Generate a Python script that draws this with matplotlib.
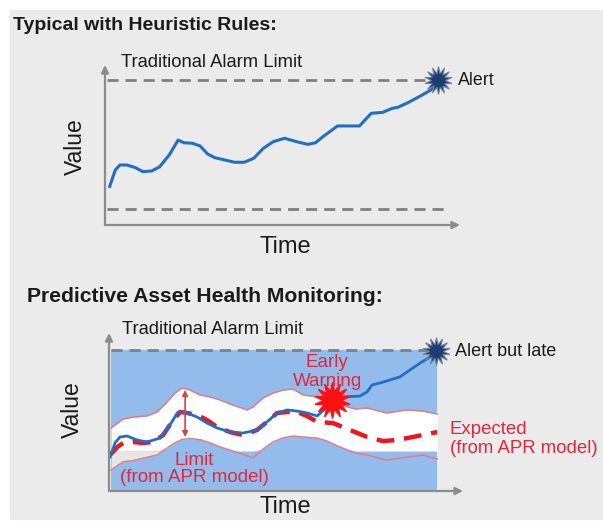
import matplotlib

matplotlib.use("Agg")

import numpy as np
import matplotlib.pyplot as plt
from matplotlib.patches import Rectangle

plt.rcParams["font.family"] = ["Liberation Sans", "DejaVu Sans"]

# ---- top panel: heuristic rules (time 0..100, value 0..100) ----
top_t = [1.3, 2.9, 4.2, 6.2, 8.6, 10.7, 13.2, 15.4, 18.1, 20.6, 22.2, 24.6, 26.8,
         28.9, 30.9, 33.8, 36.5, 39.2, 41.9, 44.6, 47.4, 50.6, 53.9, 57.1, 59.3,
         61.4, 63.6, 65.5, 71.7, 72.8, 75.0, 78.2, 80.9, 82.5, 85.3, 88.5, 91.8,
         93.4, 93.8]
top_v = [23.9, 34.4, 37.5, 37.5, 35.8, 33.3, 33.8, 36.4, 43.8, 53.1, 51.4, 51.1,
         49.4, 44.4, 42.1, 40.6, 39.2, 39.2, 41.7, 47.9, 52.1, 54.2, 52.1, 50.4,
         51.4, 55.2, 58.8, 61.9, 61.9, 64.6, 69.8, 70.4, 72.9, 73.6, 76.4, 80.2,
         84.4, 87.5, 90.6]
top_high_limit = 90.6
top_low_limit = 10.0

# ---- bottom panel: predictive monitoring ----
band_t = [0.6, 4.0, 6.8, 10.7, 13.6, 16.4, 18.6, 20.6, 22.9, 25.7, 28.5, 31.4, 35.0,
          39.0, 40.7, 43.5, 46.3, 49.2, 52.0, 54.8, 58.8, 61.6, 65.3, 69.5, 72.9,
          78.5, 84.2, 88.7, 92.7]
band_upper = [39.9, 45.6, 46.8, 47.5, 50.0, 56.3, 62.0, 65.2, 63.9, 60.8, 59.5, 57.6,
              54.4, 51.3, 53.2, 58.9, 62.0, 63.9, 64.6, 60.8, 59.5, 56.3, 54.4, 51.9,
              52.5, 49.4, 51.3, 50.6, 48.7]
band_lower = [13.3, 18.5, 19.2, 21.3, 22.8, 27.2, 30.5, 32.6, 33.2, 32.5, 30.5, 27.9,
              25.3, 22.3, 20.9, 26.5, 31.0, 33.6, 34.8, 34.2, 33.5, 31.6, 27.8, 24.0,
              22.8, 19.6, 21.5, 22.7, 20.3]

exp_t = [0.3, 2.3, 4.0, 6.8, 9.6, 12.4, 15.3, 18.1, 20.1, 22.0, 24.9, 27.7, 30.5,
         34.2, 37.9, 41.8, 44.6, 47.5, 50.3, 53.1, 55.9, 58.8, 63.3, 68.1, 72.9,
         77.4, 81.4, 85.9, 92.7]
exp_v = [22.8, 27.8, 30.4, 31.0, 30.4, 31.0, 35.4, 44.9, 50.0, 49.4, 48.1, 44.9,
         40.5, 37.3, 35.4, 38.6, 43.7, 49.4, 50.0, 50.0, 47.5, 43.7, 43.0, 38.6,
         34.2, 31.6, 32.3, 34.2, 37.3]

act_t = [0.3, 1.7, 3.1, 5.1, 7.9, 10.7, 14.4, 17.2, 19.5, 22.0, 24.9, 27.7, 30.5,
         34.2, 37.9, 41.8, 44.6, 47.5, 50.3, 53.1, 55.9, 58.8, 61.0, 63.0, 66.1,
         70.9, 72.9, 74.3, 76.6, 79.4, 82.2, 85.0, 87.9, 90.7, 92.4]
act_v = [21.5, 30.4, 34.2, 34.8, 32.3, 31.0, 33.5, 41.8, 50.0, 49.4, 46.8, 43.0,
         39.9, 37.3, 36.7, 38.6, 43.7, 49.4, 51.3, 50.6, 49.4, 47.5, 51.9, 57.6,
         59.5, 60.1, 62.7, 67.1, 68.4, 70.3, 72.2, 76.6, 81.0, 84.8, 88.0]

bot_alarm_limit = 89.2
region_t = [0.6, 92.7]
gray_floor = 25.3
warning_t, warning_v = 63.0, 57.6
alert_t, alert_v = 92.4, 88.6
limit_arrow_t = 21.5
limit_arrow_v = [63.9, 34.2]

AXIS_GRAY = "#8c8c8c"
DASH_GRAY = "#808080"
BLUE = "#1f6fc5"
RED = "#f0141e"
TEXT_RED = "#e0283a"
TEXT = "#1a1a1a"

fig = plt.figure(figsize=(6.03, 5.24), dpi=100, facecolor="white")
fig.patches.append(Rectangle((10 / 603, 5 / 524), 593 / 603, 509 / 524,
                             transform=fig.transFigure, color="#ebebeb", zorder=-10))

fig.text(13 / 603, 1 - 25 / 524, "Typical with Heuristic Rules:", fontsize=14,
         fontweight="bold", color=TEXT, va="center", ha="left")
fig.text(27 / 603, 1 - 297 / 524, "Predictive Asset Health Monitoring:", fontsize=15.2,
         fontweight="bold", color=TEXT, va="center", ha="left")


def draw_axes(ax):
    ax.set_xlim(0, 100)
    ax.set_ylim(0, 100)
    ax.axis("off")
    arrow = dict(arrowstyle="-|>", color=AXIS_GRAY, lw=1.6, mutation_scale=11,
                 shrinkA=0, shrinkB=0)
    ax.annotate("", xy=(100, 0), xytext=(0, 0), arrowprops=arrow, zorder=6)
    ax.annotate("", xy=(0, 100), xytext=(0, 0), arrowprops=arrow, zorder=6)


# top panel
ax1 = fig.add_axes([105 / 603, 1 - 225 / 524, 355 / 603, 160 / 524])
draw_axes(ax1)
ax1.plot([0.6, 93.8], [top_high_limit] * 2, color=DASH_GRAY, lw=2, dashes=(4, 2.5))
ax1.plot([0.6, 97.2], [top_low_limit] * 2, color=DASH_GRAY, lw=2, dashes=(4, 2.5))
ax1.plot(top_t, top_v, color=BLUE, lw=2.2, solid_capstyle="round")
ax1.plot([top_t[-1]], [top_high_limit], marker=(14, 1, 0), ms=20, color="#1d3c70",
         mec="#6f80a0", mew=0.8, zorder=7)
ax1.text(4.5, 101.3, "Traditional Alarm Limit", fontsize=13.2, color=TEXT, va="center")
ax1.text(99.4, top_high_limit, "Alert", fontsize=12.8, color=TEXT, va="center")
ax1.text(-8.2, 48.8, "Value", fontsize=16.5, color=TEXT, rotation=90,
         ha="center", va="center")
ax1.text(50.7, -13.8, "Time", fontsize=17, color=TEXT, ha="center", va="center")

# bottom panel
ax2 = fig.add_axes([109 / 603, 1 - 491 / 524, 354 / 603, 158 / 524])
draw_axes(ax2)
bt = np.array(band_t)
lo = np.array(band_lower)
up = np.array(band_upper)
ax2.fill_between(region_t, 0, bot_alarm_limit, color="#93bcec", lw=0, zorder=1)
ax2.fill_between(bt, np.maximum(lo, gray_floor), up, color="white", lw=0, zorder=2)
ax2.fill_between(bt, lo, gray_floor, where=(bt < 20) & (lo < gray_floor),
                 interpolate=True, color="#e6e6e6", lw=0, zorder=2)
ax2.plot(bt, up, color="#e07c88", lw=1.1, zorder=3)
ax2.plot(bt, lo, color="#e07c88", lw=1.1, zorder=3)
ax2.plot(region_t, [bot_alarm_limit] * 2, color=DASH_GRAY, lw=2, dashes=(4, 2.5), zorder=3)
ax2.plot(exp_t, exp_v, color=RED, lw=3.2, dashes=(4, 2.2), zorder=4)
ax2.plot(act_t, act_v, color=BLUE, lw=2, zorder=5)
ax2.annotate("", xy=(limit_arrow_t, limit_arrow_v[0]), xytext=(limit_arrow_t, limit_arrow_v[1]),
             arrowprops=dict(arrowstyle="<|-|>", color="#d8404a", lw=1.2,
                             mutation_scale=8, shrinkA=0, shrinkB=0), zorder=6)
ax2.plot([warning_t], [warning_v], marker=(14, 1, 0), ms=26, color="#ff1010",
         mec="#ff1010", zorder=7)
ax2.plot([alert_t], [alert_v], marker=(14, 1, 0), ms=20, color="#1d3c70",
         mec="#6f80a0", mew=0.8, zorder=7)
ax2.text(3.7, 101.9, "Traditional Alarm Limit", fontsize=13.2, color=TEXT, va="center")
ax2.text(97.7, 88.0, "Alert but late", fontsize=13, color=TEXT, va="center")
ax2.text(61.6, 75.3, "Early\nWarning", fontsize=13.5, color=TEXT_RED, ha="center",
         va="center", linespacing=1.1, zorder=8)
ax2.text(96.3, 32.9, "Expected\n(from APR model)", fontsize=13.4, color=TEXT_RED,
         ha="left", va="center", linespacing=1.2)
ax2.text(24.0, 13.9, "Limit\n(from APR model)", fontsize=13.5, color=TEXT_RED,
         ha="center", va="center", linespacing=1.0, zorder=8)
ax2.text(-10.2, 51.3, "Value", fontsize=16.5, color=TEXT, rotation=90,
         ha="center", va="center")
ax2.text(49.7, -10.1, "Time", fontsize=17, color=TEXT, ha="center", va="center")

fig.savefig("out.png", dpi=100)
plt.close(fig)
